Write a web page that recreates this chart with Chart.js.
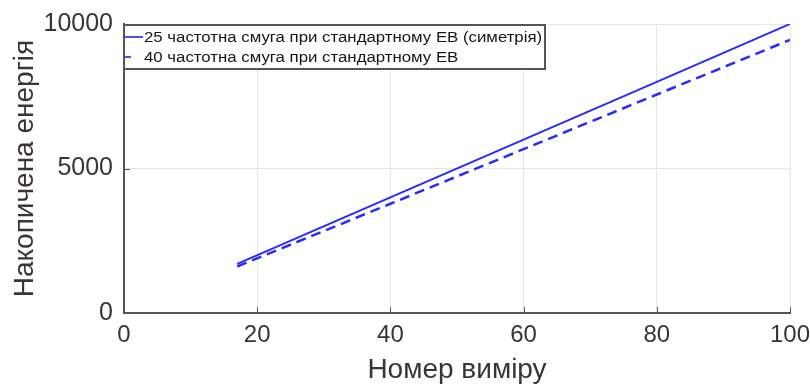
<!DOCTYPE html>
<html>
<head>
<meta charset="utf-8">
<script src="https://cdn.jsdelivr.net/npm/chart.js@4"></script>
<style>
  html, body { margin: 0; padding: 0; background: #fff; }
  #wrap { width: 810px; height: 387px; }
</style>
</head>
<body>
<div id="wrap"><canvas id="energyChart" width="810" height="387"></canvas></div>
<script>
// measurement numbers and accumulated energy
const measureNo = [17, 40, 60, 80, 100];
const energyBand25 = [1700, 4000, 6000, 8000, 10000];
const energyBand40 = [1610, 3780, 5670, 7560, 9450];

const xTicks = [0, 20, 40, 60, 80, 100];
const yTicks = [0, 5000, 10000];

const labels = [
    "25 частотна смуга при стандартному ЕВ (симетрія)",
    "40 частотна смуга при стандартному ЕВ"
];

const textColor = "#3b3434";
const fontFamily = "'Liberation Sans', Arial, sans-serif";

function toPoints(xs, ys) {
    return xs.map((x, i) => ({ x: x, y: ys[i] }));
}

// legend box drawn inside the plot, top-left corner
const innerLegend = {
    id: "innerLegend",
    afterDraw(chart) {
        const ctx = chart.ctx;
        const area = chart.chartArea;
        const x0 = area.left, y0 = area.top + 1;
        const w = 421, h = 44;
        ctx.save();
        ctx.fillStyle = "#fff";
        ctx.fillRect(x0, y0, w, h);
        chart.data.datasets.forEach((ds, i) => {
            const yy = y0 + 12 + i * 20;
            ctx.strokeStyle = "#4d4dff";
            ctx.lineWidth = 2;
            ctx.setLineDash([]);
            ctx.beginPath();
            ctx.moveTo(x0, yy);
            ctx.lineTo(x0 + (ds.borderDash ? 7 : 19), yy);
            ctx.stroke();
            // label text is a little wider than the font's natural width
            ctx.save();
            ctx.translate(x0 + 20, yy + 1);
            ctx.scale(1.2, 1);
            ctx.font = "14px " + fontFamily;
            ctx.textBaseline = "middle";
            ctx.fillStyle = "#161616";
            ctx.fillText(ds.label, 0, 0);
            ctx.restore();
        });
        ctx.strokeStyle = "#555";
        ctx.lineWidth = 2;
        ctx.strokeRect(x0, y0, w, h);
        ctx.restore();
    }
};

// small inward tick marks on the left and bottom axes
const inwardTicks = {
    id: "inwardTicks",
    afterDatasetsDraw(chart) {
        const ctx = chart.ctx;
        const area = chart.chartArea;
        const xs = chart.scales.x, ys = chart.scales.y;
        ctx.save();
        ctx.strokeStyle = "#555";
        ctx.lineWidth = 1;
        xTicks.forEach(v => {
            const px = Math.round(xs.getPixelForValue(v)) + 0.5;
            ctx.beginPath();
            ctx.moveTo(px, area.bottom);
            ctx.lineTo(px, area.bottom - 6);
            ctx.stroke();
        });
        yTicks.forEach(v => {
            const py = Math.round(ys.getPixelForValue(v)) + 0.5;
            ctx.beginPath();
            ctx.moveTo(area.left, py);
            ctx.lineTo(area.left + 6, py);
            ctx.stroke();
        });
        ctx.restore();
    }
};

new Chart(document.getElementById("energyChart"), {
    type: "line",
    data: {
        datasets: [
            {
                label: labels[0],
                data: toPoints(measureNo, energyBand25),
                borderColor: "#2a2aff",
                borderWidth: 2,
                pointRadius: 0,
                fill: false
            },
            {
                label: labels[1],
                data: toPoints(measureNo, energyBand40),
                borderColor: "#2a2aff",
                borderWidth: 2.5,
                borderDash: [10, 6],
                pointRadius: 0,
                fill: false
            }
        ]
    },
    options: {
        responsive: false,
        animation: false,
        layout: { padding: { top: 24, right: 20, left: 0, bottom: 0 } },
        plugins: { legend: { display: false }, tooltip: { enabled: false } },
        scales: {
            x: {
                type: "linear",
                min: 0,
                max: 100,
                afterBuildTicks: s => { s.ticks = xTicks.map(v => ({ value: v })); },
                afterFit: s => { s.height = 74; s.paddingLeft = 0; s.paddingRight = 0; },
                grid: { color: "#e6e6e6", drawTicks: false },
                border: { color: "#555", width: 2 },
                ticks: {
                    color: textColor,
                    font: { family: fontFamily, size: 24 },
                    padding: 8,
                    callback: v => String(v)
                },
                title: {
                    display: true,
                    text: "Номер виміру",
                    color: textColor,
                    font: { family: fontFamily, size: 28 },
                    padding: { top: 0, bottom: 0 }
                }
            },
            y: {
                min: 0,
                max: 10000,
                afterBuildTicks: s => { s.ticks = yTicks.map(v => ({ value: v })); },
                afterFit: s => { s.width = 124; s.paddingTop = 0; s.paddingBottom = 0; },
                grid: { color: "#e6e6e6", drawTicks: false },
                border: { color: "#555", width: 2 },
                ticks: {
                    color: textColor,
                    font: { family: fontFamily, size: 25 },
                    padding: 11,
                    callback: v => String(v)
                },
                title: {
                    display: true,
                    text: "Накопичена енергія",
                    color: textColor,
                    font: { family: fontFamily, size: 28 },
                    padding: { top: 8, bottom: 0 }
                }
            }
        }
    },
    plugins: [innerLegend, inwardTicks]
});
</script>
</body>
</html>
